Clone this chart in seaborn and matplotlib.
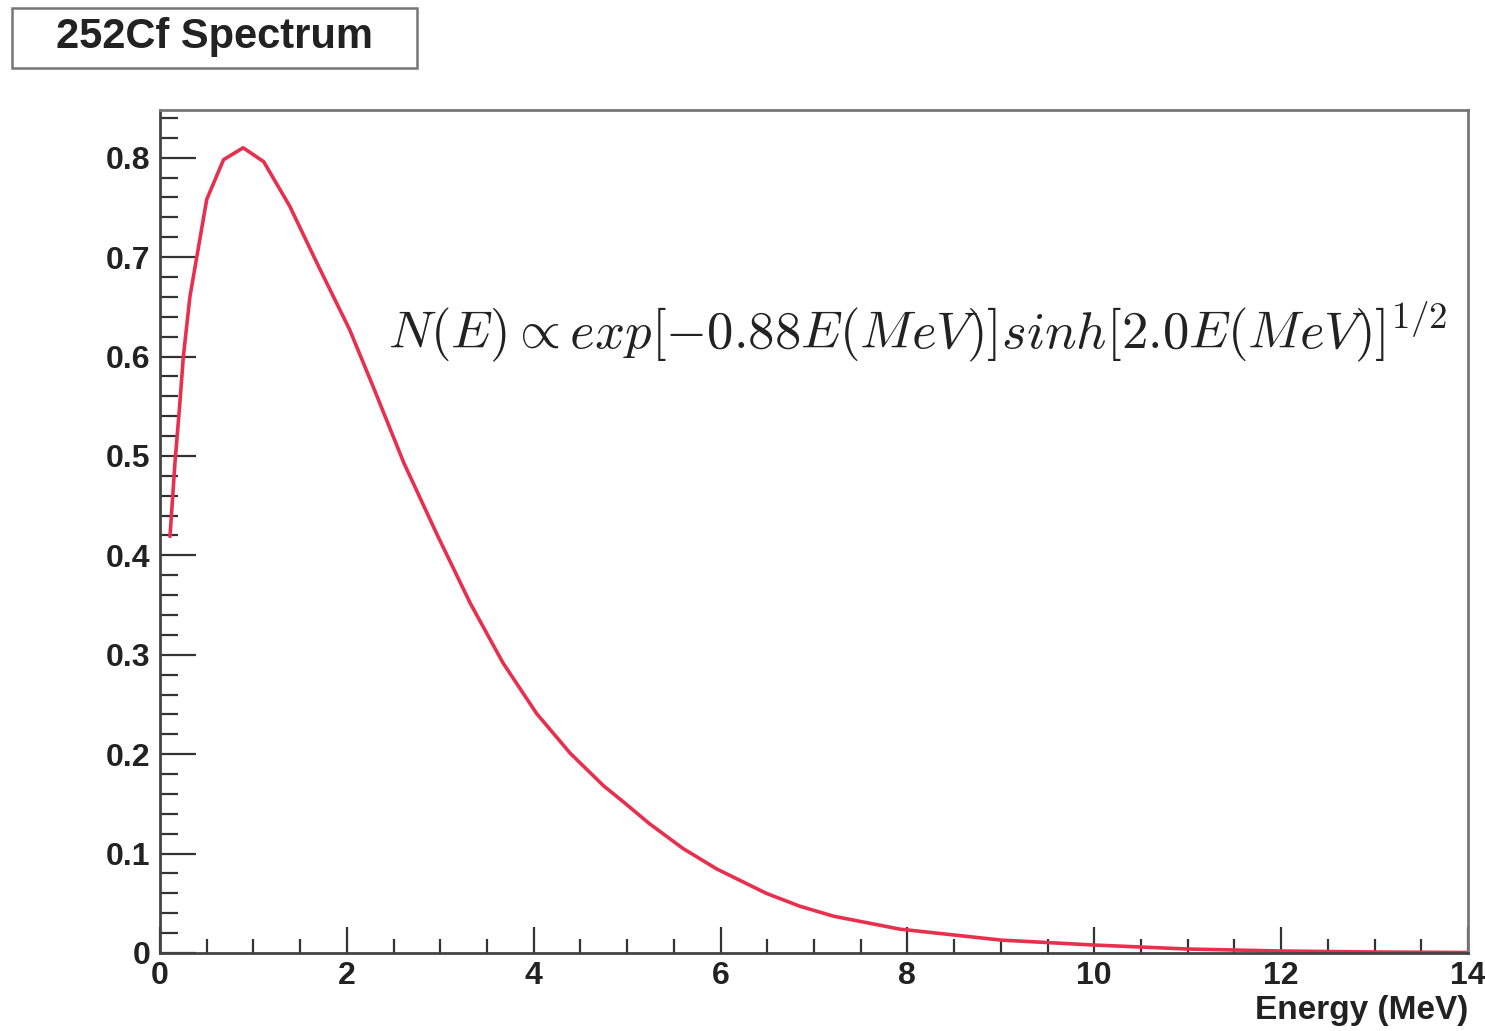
import matplotlib
matplotlib.use("Agg")
import matplotlib.pyplot as plt
import matplotlib.patches as mpatches
from matplotlib.ticker import MultipleLocator, FuncFormatter
import numpy as np
import pandas as pd
import seaborn as sns

# Data
energy = [0.107, 0.16, 0.21, 0.25, 0.32, 0.50, 0.68, 0.89, 1.11, 1.39, 1.68,
          2.03, 2.28, 2.61, 2.96, 3.32, 3.67, 4.03, 4.39, 4.75, 4.96,
          5.24, 5.60, 5.96, 6.49, 6.85, 7.21, 7.92, 9.0, 10.0, 11.0, 12.0,
          13.0, 14.0]
spectrum = [0.419, 0.493, 0.550, 0.600, 0.660, 0.758, 0.798, 0.810, 0.796,
            0.751, 0.694, 0.627, 0.570, 0.493, 0.422, 0.352, 0.292, 0.241,
            0.201, 0.168, 0.152, 0.130, 0.105, 0.0845, 0.060, 0.047,
            0.037, 0.024, 0.013, 0.008, 0.004, 0.002, 0.001, 0.0005]
title_text = "252Cf Spectrum"
xlabel_text = "Energy (MeV)"
formula_text = r"$N(E) \propto exp[-0.88E(MeV)]sinh[2.0E(MeV)]^{1/2}$"

df = pd.DataFrame({"energy": energy, "spectrum": spectrum})

sns.set_style("ticks")
plt.rcParams["font.family"] = ["Liberation Sans", "DejaVu Sans"]
plt.rcParams["mathtext.fontset"] = "cm"

W, H = 1485, 1031
fig = plt.figure(figsize=(W / 100, H / 100), dpi=100)
ax = fig.add_axes([160 / W, 1 - 953 / H, (1468 - 160) / W, (953 - 110) / H])

sns.lineplot(data=df, x="energy", y="spectrum", ax=ax, color="#e8304e",
             linewidth=2.6, legend=False)

ax.set_xlim(0, 14)
ax.set_ylim(0, 0.848)
ax.xaxis.set_major_locator(MultipleLocator(2))
ax.xaxis.set_minor_locator(MultipleLocator(0.5))
ax.yaxis.set_major_locator(MultipleLocator(0.1))
ax.yaxis.set_minor_locator(MultipleLocator(0.02))

def fmt(v, pos):
    s = f"{v:.1f}" if abs(v - round(v)) > 1e-9 else f"{int(round(v))}"
    return s
ax.xaxis.set_major_formatter(FuncFormatter(lambda v, p: f"{int(round(v))}"))
ax.yaxis.set_major_formatter(FuncFormatter(fmt))

tick_color = "#333333"
ax.tick_params(axis="both", which="both", direction="in", top=False,
               right=False, colors=tick_color, labelcolor="#222222")
ax.tick_params(axis="y", which="major", length=26, width=1.6, pad=7,
               labelsize=23)
ax.tick_params(axis="y", which="minor", length=13, width=1.6)
ax.tick_params(axis="x", which="major", length=19, width=1.6, pad=6,
               labelsize=23)
ax.tick_params(axis="x", which="minor", length=10, width=1.6)
for lab in ax.get_xticklabels() + ax.get_yticklabels():
    lab.set_fontweight("bold")

for side in ["left", "bottom", "top", "right"]:
    ax.spines[side].set_visible(True)
    ax.spines[side].set_linewidth(2.0)
ax.spines["left"].set_color("#444444")
ax.spines["bottom"].set_color("#444444")
ax.spines["top"].set_color("#777777")
ax.spines["right"].set_color("#777777")

ax.set_xlabel("")
ax.set_ylabel("")
fig.text(1468 / W, 1 - 1011 / H, xlabel_text, ha="right", va="center",
         fontsize=24, fontweight="bold", color="#222222")

ax.text(0.9845, 0.737, formula_text, transform=ax.transAxes, ha="right",
        va="center", fontsize=38, color="#222222")

# Title box
rect = mpatches.Rectangle((12 / W, 1 - 68 / H), (417 - 12) / W, 60 / H,
                          transform=fig.transFigure, fill=False,
                          edgecolor="#777777", linewidth=1.8)
fig.patches.append(rect)
fig.text(214 / W, 1 - 37 / H, title_text, ha="center", va="center",
         fontsize=30, fontweight="bold", color="#222222")

fig.savefig("out.png", dpi=100, facecolor="white")
